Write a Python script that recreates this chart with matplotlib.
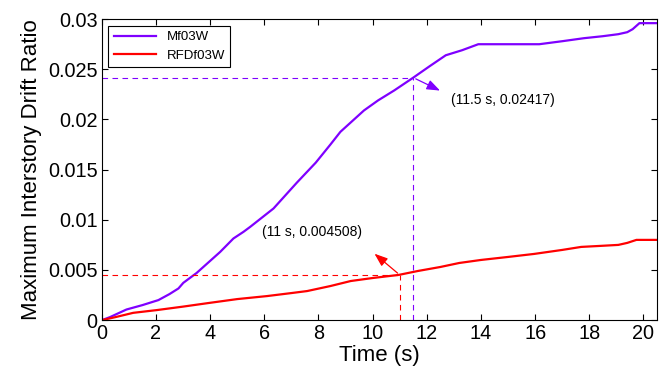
import numpy as np
import matplotlib
matplotlib.use("Agg")
import matplotlib.pyplot as plt

plt.rcParams['font.family'] = ['Liberation Sans', 'DejaVu Sans']

# purple series (Mf03W)
t_mf = [0, 0.3, 0.91, 1.5, 2.09, 2.5, 2.83, 3.01, 3.5, 4.37, 4.86, 5.23, 5.48, 6.34,
        7.2, 7.9, 8.44, 8.81, 9.68, 10.2, 10.8, 11.5, 12.1, 12.7, 13.3, 13.9,
        15.0, 16.15, 17.0, 17.8, 18.5, 19.07, 19.4, 19.6, 19.85, 20.5]
d_mf = [0, 0.0003, 0.00106, 0.0015, 0.002, 0.0026, 0.00316, 0.00372, 0.0047, 0.0068,
        0.00814, 0.0088, 0.0093, 0.01113, 0.0137, 0.0157, 0.0175, 0.01877, 0.0209,
        0.0219, 0.0229, 0.02417, 0.0253, 0.0264, 0.0269, 0.0275,
        0.0275, 0.0275, 0.0278, 0.0281, 0.0283, 0.0285, 0.0287, 0.029, 0.0296, 0.0296]

# red series (RFDf03W)
t_rfd = [0, 0.5, 1.16, 2.02, 3.0, 4.0, 5.0, 6.1, 7.0, 7.58, 8.44, 9.19, 10.0, 10.96,
         11.67, 12.5, 13.2, 14.0, 15.0, 15.96, 17.0, 17.7, 18.4, 19.07, 19.4, 19.74, 20.5]
d_rfd = [0, 0.0003, 0.00073, 0.001, 0.00135, 0.00173, 0.0021, 0.0024, 0.0027, 0.0029,
         0.0034, 0.0039, 0.0042, 0.004508, 0.0049, 0.0053, 0.0057, 0.006, 0.0063, 0.0066,
         0.007, 0.0073, 0.0074, 0.0075, 0.0077, 0.008, 0.008]

labels = ["Mf03W", "RFDf03W"]
purple = "#7F00FF"
red = "#FF0000"

pt_mf = (11.5, 0.02417)
pt_rfd = (11, 0.004508)

fig = plt.figure(figsize=(6.61, 3.68), dpi=100)
ax = fig.add_axes([0.154, 0.130, 0.840, 0.818])

ax.plot(t_mf, d_mf, color=purple, lw=1.6, label=labels[0])
ax.plot(t_rfd, d_rfd, color=red, lw=1.6, label=labels[1])

# dashed guide lines to the picked points
ax.plot([0, pt_mf[0]], [pt_mf[1], pt_mf[1]], color=purple, ls=(0, (5, 4)), lw=0.8)
ax.plot([pt_mf[0], pt_mf[0]], [0, pt_mf[1]], color=purple, ls=(0, (5, 4)), lw=0.8)
ax.plot([0, pt_rfd[0]], [pt_rfd[1], pt_rfd[1]], color=red, ls=(0, (5, 4)), lw=0.8)
ax.plot([pt_rfd[0], pt_rfd[0]], [0, pt_rfd[1]], color=red, ls=(0, (5, 4)), lw=0.8)

ax.annotate("", xy=(12.58, 0.02276), xytext=pt_mf,
            arrowprops=dict(arrowstyle="-|>,head_length=0.8,head_width=0.3", color=purple, lw=0.9))
ax.text(12.9, 0.0219, "(11.5 s, 0.02417)", fontsize=10, va="center", ha="left")
ax.annotate("", xy=(9.99, 0.0068), xytext=pt_rfd,
            arrowprops=dict(arrowstyle="-|>,head_length=0.8,head_width=0.3", color=red, lw=0.9))
ax.text(5.93, 0.00877, "(11 s, 0.004508)", fontsize=10, va="center", ha="left")

ax.set_xlim(0, 20.5)
ax.set_ylim(0, 0.03)
ax.set_xticks(np.arange(0, 21, 2))
ax.set_yticks([0, 0.005, 0.01, 0.015, 0.02, 0.025, 0.03])
ax.set_yticklabels(["0", "0.005", "0.01", "0.015", "0.02", "0.025", "0.03"])
ax.tick_params(direction="in", top=True, right=True, labelsize=14.3, length=4, pad=3)
ax.set_xlabel("Time (s)", fontsize=16, labelpad=1)
ax.set_ylabel("Maximum Interstory Drift Ratio", fontsize=16, labelpad=4)

leg = ax.legend(loc="upper left", fontsize=9.5, fancybox=False, framealpha=1,
                edgecolor="black", borderaxespad=0.5, handlelength=3.2)
leg.get_frame().set_linewidth(0.8)

fig.savefig("out.png", dpi=100)
